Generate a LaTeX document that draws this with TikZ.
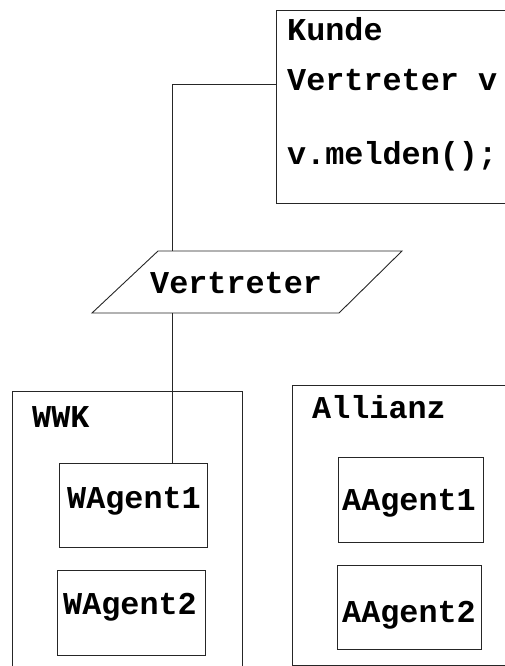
\documentclass[tikz,border=0pt]{standalone}
\usepackage{fontspec}
\setmonofont{Liberation Mono}
\usetikzlibrary{fit}
\begin{document}
\begin{tikzpicture}[x=1pt,y=-1pt,
  box/.style={draw=black!85,line width=0.9pt,inner sep=0pt},
  lbl/.style={inner sep=0pt,anchor=base west,font=\fontsize{31.8}{36}\selectfont\ttfamily\bfseries},
  conn/.style={draw=black!85,line width=0.9pt}]
\clip (0,0) rectangle (505,666);
% Kunde
\node[box,fit={(276,10) (530,203)}] (kunde) {};
\node[lbl] (tkunde) at (287,41) {Kunde};
\node[lbl] (tkv) at (287,91) {Vertreter v};
\node[lbl] (tmeld) at (287,164) {v.melden();};
% Vertreter parallelogram
\coordinate (p1) at (92,313);
\coordinate (p2) at (339,313);
\coordinate (p3) at (402,251);
\coordinate (p4) at (158,251);
\draw[conn] (p1) -- (p2) -- (p3) -- (p4) -- cycle;
\node[lbl] (tvert) at (150,293) {Vertreter};
% WWK
\node[box,fit={(12,391) (242,690)}] (wwk) {};
\node[lbl] (twwk) at (32,427) {WWK};
\node[box,fit={(59,463) (207,547)}] (wa1) {};
\node[lbl] (twa1) at (67,508) {WAgent1};
\node[box,fit={(57,570) (205,655)}] (wa2) {};
\node[lbl] (twa2) at (63,614) {WAgent2};
% Allianz
\node[box,fit={(292,385) (530,665)}] (all) {};
\node[lbl] (tall) at (312,418) {Allianz};
\node[box,fit={(338,457) (483,542)}] (aa1) {};
\node[lbl] (taa1) at (342,510) {AAgent1};
\node[box,fit={(337,565) (481,649)}] (aa2) {};
\node[lbl] (taa2) at (342,622) {AAgent2};
% connectors
\coordinate (ktop) at (kunde.west |- 0,84);
\coordinate (vtop) at (172,251);
\coordinate (vbot) at (172,313);
\draw[conn] (ktop) -| (vtop);
\draw[conn] (vbot) -- (vbot |- wa1.north);
\end{tikzpicture}
\end{document}
